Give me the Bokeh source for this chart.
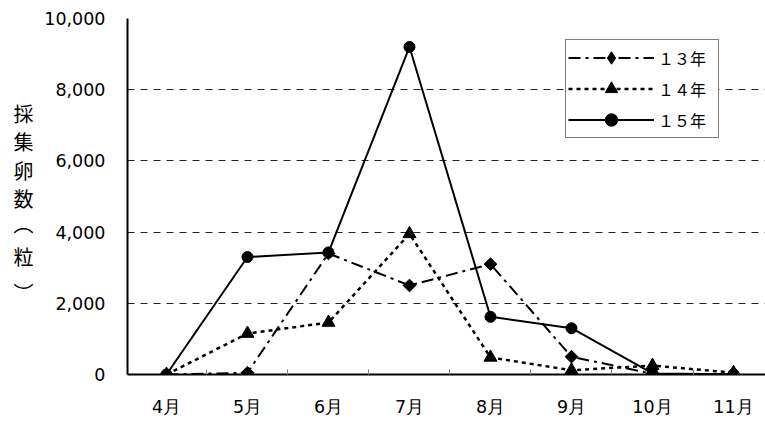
import math
import numpy as np
from bokeh.plotting import figure
from bokeh.models import (FixedTicker, NumeralTickFormatter, Legend, LegendItem,
                          Range1d, LinearAxis)
from bokeh.embed import file_html
from bokeh.resources import INLINE

months = ["4月", "5月", "6月", "7月", "8月", "9月", "10月", "11月"]
eggs_13 = [0, 50, 3400, 2500, 3100, 500, 20, 0]
eggs_14 = [0, 1150, 1460, 3950, 480, 120, 250, 50]
eggs_15 = [0, 3300, 3430, 9200, 1620, 1300, 30, 10]
series_names = ["１３年", "１４年", "１５年"]
y_title = "採集卵数︵粒︶"
y_ticks = [0, 2000, 4000, 6000, 8000, 10000]

FONT = "DejaVu Sans"
CJK = "Noto Sans CJK JP"
X0, X1 = -0.481, 7.395
xs = list(range(len(months)))

p = figure(width=765, height=424, output_backend="svg", toolbar_location=None,
           x_range=Range1d(X0, X1), y_range=Range1d(0, 10000),
           min_border_left=127, min_border_right=0, min_border_top=18, min_border_bottom=50)
p.outline_line_color = None
p.background_fill_color = "white"

# x axis: months at integer positions, small inward ticks between categories
p.xaxis.ticker = FixedTicker(ticks=xs, minor_ticks=[i + 0.5 for i in range(len(months))])
p.xaxis.major_label_overrides = {i: m for i, m in enumerate(months)}
p.xaxis.major_tick_in = 0
p.xaxis.major_tick_out = 0
p.xaxis.minor_tick_in = 5
p.xaxis.minor_tick_out = 0
p.xaxis.minor_tick_line_color = "#808080"
p.xaxis.axis_line_width = 2
p.xaxis.axis_line_color = "black"
p.xaxis.major_label_text_font = FONT
p.xaxis.major_label_text_font_size = "17.5px"
p.xaxis.major_label_text_color = "black"
p.xaxis.major_label_standoff = 22
p.xgrid.visible = False

# y axis
p.yaxis.ticker = FixedTicker(ticks=y_ticks)
p.yaxis.formatter = NumeralTickFormatter(format="0,0")
p.yaxis.major_tick_in = 0
p.yaxis.major_tick_out = 0
p.yaxis.minor_tick_in = 0
p.yaxis.minor_tick_out = 0
p.yaxis.axis_line_width = 2
p.yaxis.axis_line_color = "black"
p.yaxis.major_label_text_font = FONT
p.yaxis.major_label_text_font_size = "17.5px"
p.yaxis.major_label_text_color = "black"
p.yaxis.major_label_standoff = 22
p.ygrid.ticker = FixedTicker(ticks=[2000, 4000, 6000, 8000])
p.ygrid.grid_line_color = "#222222"
p.ygrid.grid_line_dash = "7 6"
p.ygrid.grid_line_width = 1

# vertical y-axis title: an outer left axis whose tick labels are the
# upright characters of the title, one per row (rows given in pixels from the top;
# the vertical-form brackets sit off-centre in their em box, hence the uneven rows)
title_rows_px = [113, 141.5, 170, 198.5, 223, 256, 292]
title_pos = [round((374 - r) * 10000 / 356) for r in title_rows_px]
title_axis = LinearAxis(ticker=FixedTicker(ticks=title_pos, minor_ticks=[]),
                        major_label_overrides={v: ch for v, ch in zip(title_pos, y_title)})
title_axis.axis_line_color = None
title_axis.major_tick_line_color = None
title_axis.minor_tick_line_color = None
title_axis.major_label_text_font = CJK
title_axis.major_label_text_font_size = "20px"
title_axis.major_label_text_color = "black"
title_axis.major_label_standoff = 2
p.add_layout(title_axis, "left")

l13 = p.line(xs, eggs_13, line_color="black", line_width=2, line_dash="12 5 3 5")
m13 = p.scatter(xs, eggs_13, marker="square", size=9, angle=math.pi / 4,
                fill_color="black", line_color="black")
# legend swatch for the rotated-square marker (no point inside the plot)
k13 = p.scatter(x=np.array([np.nan]), y=np.array([np.nan]), marker="diamond", size=16,
                fill_color="black", line_color="black")
l14 = p.line(xs, eggs_14, line_color="black", line_width=2.5, line_dash="4 4")
m14 = p.scatter(xs, eggs_14, marker="triangle", size=13, fill_color="black", line_color="black")
l15 = p.line(xs, eggs_15, line_color="black", line_width=2)
m15 = p.scatter(xs, eggs_15, marker="circle", size=11, fill_color="black", line_color="black")

legend = Legend(items=[
    LegendItem(label=series_names[0], renderers=[l13, k13]),
    LegendItem(label=series_names[1], renderers=[l14, m14]),
    LegendItem(label=series_names[2], renderers=[l15, m15]),
], location=(438, 236))
legend.border_line_color = "black"
legend.border_line_width = 1
legend.background_fill_color = "white"
legend.background_fill_alpha = 1
legend.label_text_font = CJK
legend.label_text_font_size = "16px"
legend.label_text_color = "black"
legend.glyph_width = 86
legend.glyph_height = 31
legend.label_height = 31
legend.label_width = 58
legend.label_standoff = 4
legend.spacing = 0
legend.padding = 2
legend.margin = 0
p.add_layout(legend, "center")

open("out.html", "w").write(file_html(p, INLINE))
